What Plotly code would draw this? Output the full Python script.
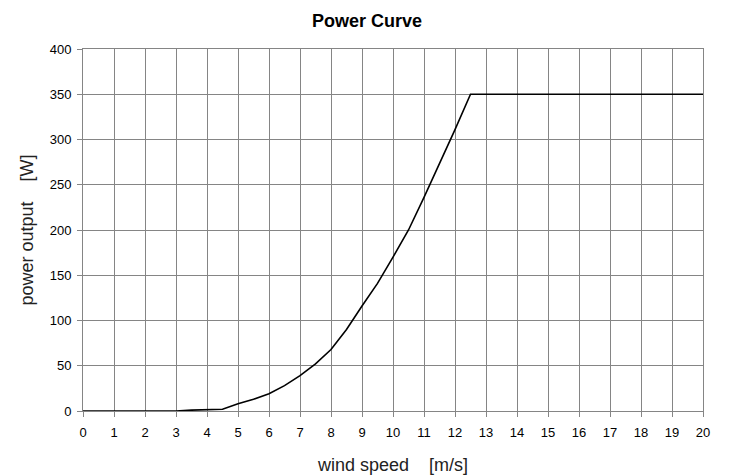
import plotly.graph_objects as go

wind_speed = [0, 1, 2, 3, 3.5, 4, 4.5, 5, 5.5, 6, 6.5, 7, 7.5, 8, 8.5, 9, 9.5, 10, 10.5, 11, 11.5, 12, 12.5, 13, 14, 15, 16, 17, 18, 19, 20]
power = [0, 0, 0, 0, 1, 1.5, 2, 8, 13, 19, 28, 39, 52, 68, 90, 116, 141, 170, 200, 236, 273, 311, 350, 350, 350, 350, 350, 350, 350, 350, 350]
x_ticks = list(range(0, 21))
y_ticks = list(range(0, 401, 50))

fig = go.Figure()
fig.add_trace(go.Scatter(x=wind_speed, y=power, mode="lines",
                         line=dict(color="black", width=1.6), showlegend=False,
                         cliponaxis=False))

font = "Liberation Sans, Arial, sans-serif"
sp = "\u00a0" * 4
# page body has an 8px default margin; margins compensate for it
fig.update_layout(
    width=729, height=475,
    margin=dict(l=75, r=34, t=41, b=72, autoexpand=False),
    paper_bgcolor="white", plot_bgcolor="white",
    title=dict(text="<b>Power Curve</b>", x=0.4925, xanchor="center", y=0.973, yanchor="middle",
               font=dict(family=font, size=18, color="black")),
    font=dict(family=font, color="black"),
)
fig.update_xaxes(
    range=[0, 20], tickvals=x_ticks, ticktext=[str(v) for v in x_ticks],
    showgrid=True, gridcolor="#858585", gridwidth=1,
    showline=True, linecolor="#858585", linewidth=1, mirror=True,
    ticks="outside", ticklen=5, tickcolor="#858585", ticklabelstandoff=4,
    tickfont=dict(size=13, color="black"), zeroline=False, automargin=False,
    title=dict(text="wind speed" + sp + "[m/s]", font=dict(size=18, color="#222"), standoff=19),
)
fig.update_yaxes(
    range=[0, 400], tickvals=y_ticks,
    showgrid=True, gridcolor="#858585", gridwidth=1,
    showline=True, linecolor="#858585", linewidth=1, mirror=True,
    ticks="outside", ticklen=5, tickcolor="#858585", ticklabelstandoff=3,
    tickfont=dict(size=13, color="black"), zeroline=False, automargin=False,
    title=dict(text="power output" + sp + "[W]", font=dict(size=18, color="#222"), standoff=11),
)
fig.write_html("out.html")
